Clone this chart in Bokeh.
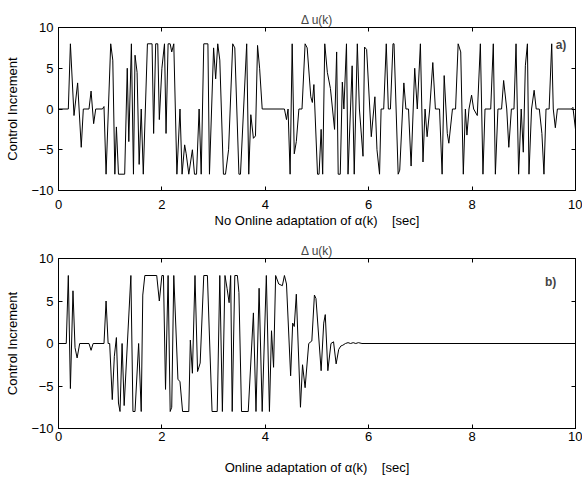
from bokeh.plotting import figure
from bokeh.models import LinearAxis, Label, Range1d, FixedTicker
from bokeh.layouts import column
from bokeh.embed import file_html
from bokeh.resources import INLINE

# ---- data: a) no online adaptation ----
t_a = [0, 0.19, 0.23, 0.30, 0.37, 0.44, 0.48, 0.59, 0.63, 0.68,
       0.72, 0.85, 0.88, 0.92, 1.01, 1.05, 1.09, 1.12, 1.16, 1.28,
       1.33, 1.36, 1.41, 1.45, 1.48, 1.52, 1.56, 1.60, 1.64, 1.72,
       1.81, 1.84, 1.88, 1.92, 1.95, 2.00, 2.05, 2.08, 2.12, 2.16,
       2.19, 2.23, 2.29, 2.35, 2.39, 2.44, 2.47, 2.52, 2.59, 2.63,
       2.67, 2.72, 2.76, 2.81, 2.89, 2.92, 3.00, 3.04, 3.08, 3.12,
       3.19, 3.23, 3.29, 3.37, 3.41, 3.49, 3.52, 3.58, 3.64, 3.68,
       3.72, 3.77, 3.81, 3.85, 3.89, 3.94, 4.37, 4.41, 4.44, 4.48,
       4.52, 4.56, 4.60, 4.65, 4.71, 4.77, 4.81, 4.88, 4.91, 4.94,
       5.01, 5.04, 5.08, 5.11, 5.15, 5.20, 5.26, 5.34, 5.38, 5.41,
       5.45, 5.49, 5.52, 5.57, 5.60, 5.68, 5.72, 5.78, 5.82, 5.89,
       5.92, 5.96, 6.05, 6.12, 6.16, 6.21, 6.24, 6.29, 6.34, 6.38,
       6.42, 6.47, 6.49, 6.57, 6.60, 6.68, 6.72, 6.77, 6.82, 6.89,
       6.94, 7.00, 7.05, 7.09, 7.13, 7.18, 7.24, 7.29, 7.37, 7.42,
       7.46, 7.52, 7.55, 7.62, 7.68, 7.73, 7.78, 7.83, 7.87, 7.90,
       7.94, 7.99, 8.03, 8.10, 8.16, 8.21, 8.25, 8.36, 8.41, 8.45,
       8.50, 8.57, 8.61, 8.67, 8.71, 8.76, 8.81, 8.85, 8.90, 8.95,
       8.99, 9.03, 9.07, 9.10, 9.15, 9.20, 9.24, 9.30, 9.35, 9.39,
       9.43, 9.49, 9.54, 9.57, 9.61, 9.65, 9.92, 9.95, 10.0]
du_a = [0, 0, 8, -0.8, 3.2, -4.7, 0, 0, 2.2, -1.8,
        0, 0, 0.3, -8, 8, 6, -8, -2.2, -8, -8,
        5, -4, 8, -8, 6.6, 4.5, -6.8, 0, -8, 8,
        8, -3, 8, 8, -1.3, 5, 8, -3, 8, 8,
        7, 8, -8, 0, -8, -4.4, -5.5, -8, -5, -8,
        -8, 0, -8, 8, 8, -8, 7.5, 3.7, 8, 6,
        -8, -8, -5, 8, 7.5, -8, -8, 0, 8, -8,
        -0.7, -3.6, -3.3, 7.8, 5, 0, 0, -1.3, 0, -8,
        8, -5.5, -4, 0, 0, 8, 7.5, 1.5, 0.8, 3,
        -8, -8, -2.5, -8, 8, 4.5, 2.5, -2.5, 7, -8,
        -8, 3.3, 0, 8, -8, 5.3, -8, 8, 0, -5.8,
        7.6, 7.3, -3.4, 1.5, -5, -8, 0, 0, 8, 0,
        0, 8, 8, -8, -7.5, 3.2, 0, 0, -7, 5,
        0, 8, -6.5, 0, -3.4, 0, 5.7, 0, 0, -8,
        4.1, -3, -4.2, 0, 0, 8, 7, -8, 0, -3.2,
        0, 1.7, 0, -0.8, 8, -8, 0, 0, 8, -8,
        0, 0, 3.5, 0, -4.7, 0, 0, 8, -8, 0,
        -5.3, 5.3, 8, -8, 0, 2.3, 0, 0, -3, -8,
        0, 0, 8, 0, -2.3, 0, 0, 0.2, -2.5]

# ---- data: b) online adaptation ----
t_b = [0, 0.15, 0.19, 0.23, 0.28, 0.32, 0.36, 0.41, 0.59, 0.63,
       0.67, 0.88, 0.92, 0.96, 0.99, 1.04, 1.08, 1.12, 1.16, 1.19,
       1.23, 1.27, 1.40, 1.44, 1.48, 1.55, 1.60, 1.63, 1.67, 1.90,
       1.95, 2.00, 2.03, 2.07, 2.12, 2.16, 2.19, 2.23, 2.31, 2.35,
       2.40, 2.52, 2.55, 2.59, 2.64, 2.69, 2.74, 2.81, 2.88, 2.93,
       2.97, 3.07, 3.12, 3.17, 3.22, 3.26, 3.30, 3.33, 3.36, 3.41,
       3.46, 3.49, 3.54, 3.67, 3.77, 3.82, 3.88, 3.94, 4.02, 4.08,
       4.12, 4.16, 4.20, 4.26, 4.33, 4.37, 4.41, 4.49, 4.53, 4.56,
       4.60, 4.68, 4.72, 4.77, 4.84, 4.90, 4.95, 4.98, 5.08, 5.13,
       5.16, 5.21, 5.27, 5.32, 5.37, 5.42, 5.46, 5.50, 5.55, 5.60,
       5.65, 5.70, 5.75, 5.80, 5.87, 10.0]
du_b = [0, 0, 8, -5.3, 6.2, -0.5, -1.7, 0, 0, -0.8,
        0, 0, 5, 0, 0, -6.6, -1.5, 0.7, -7, -8,
        0, -7.3, 8, -8, -8, 0, -8, 5.7, 8, 8,
        5, 8, 8, -5.4, 8, -8, -7.5, 8, -4.2, -4.5,
        -8, -8, 0.4, -3.5, 8, -3.3, -2.3, 8, 8, -1,
        -8, -8, 8, -8, 8, 6.5, 4.8, 8, -8, 8,
        8, 6, -8, -8, 3.6, -8, 6.5, -8, 8, -8,
        1.5, -2.8, 8, 7, 6.8, 8, 7, -3.8, 2.4, 2,
        5.8, -7.5, -2.5, -5.2, 0, 0.3, 5.7, 5.3, -3.2, 2.4,
        3.4, -3.2, 0, 0.2, -2.4, -0.7, -0.3, -0.2, 0, 0.1,
        0, 0.1, 0, 0.1, 0, 0]

x_ticks = [0, 2, 4, 6, 8, 10]
y_ticks = [-10, -5, 0, 5, 10]
title_txt = "\u0394 u(k)"
ylabel_txt = "Control Increment"
xlabel_a = "No Online adaptation of \u03b1(k)\u00a0\u00a0\u00a0\u00a0[sec]"
xlabel_b = "Online adaptation of \u03b1(k)\u00a0\u00a0\u00a0\u00a0[sec]"

FONT = "Liberation Sans"


def style_axis(ax, labels=True):
    ax.major_tick_in = 4
    ax.major_tick_out = 0
    ax.minor_tick_line_color = None
    ax.axis_line_color = "black"
    ax.major_tick_line_color = "black"
    ax.major_label_text_font = FONT
    ax.axis_label_text_font = FONT
    ax.axis_label_text_font_style = "normal"
    ax.axis_label_text_color = "black"
    if labels:
        ax.major_label_text_color = "black"
        ax.major_label_text_font_size = "13px"
        ax.axis_label_text_font_size = "13px"
    else:
        ax.major_label_text_color = None
        ax.major_label_text_font_size = "1px"
        ax.major_label_standoff = 0


def make(t, v, xlabel, tag, tx, ty, height, top, bottom, lab_standoff, ax_standoff):
    p = figure(width=582, height=height, x_range=Range1d(0, 10), y_range=Range1d(-10, 10),
               output_backend="svg", toolbar_location=None,
               min_border_left=58, min_border_right=7,
               min_border_top=top, min_border_bottom=bottom)
    p.title.text = title_txt
    p.title.align = "center"
    p.title.text_font = FONT
    p.title.text_font_size = "12px"
    p.title.text_font_style = "normal"
    p.title.standoff = 1
    p.grid.visible = False
    p.outline_line_color = "black"
    p.outline_line_alpha = 1
    p.background_fill_color = "white"
    p.border_fill_color = "white"

    p.xaxis.ticker = FixedTicker(ticks=x_ticks)
    p.yaxis.ticker = FixedTicker(ticks=y_ticks)
    for ax in p.xaxis + p.yaxis:
        style_axis(ax)
    p.xaxis.axis_label = xlabel
    p.yaxis.axis_label = ylabel_txt
    p.xaxis.major_label_standoff = lab_standoff
    p.xaxis.axis_label_standoff = ax_standoff
    p.yaxis.major_label_standoff = 5
    p.yaxis.axis_label_standoff = 8

    top_ax = LinearAxis(ticker=FixedTicker(ticks=x_ticks))
    right_ax = LinearAxis(ticker=FixedTicker(ticks=y_ticks))
    style_axis(top_ax, labels=False)
    style_axis(right_ax, labels=False)
    p.add_layout(top_ax, "above")
    p.add_layout(right_ax, "right")

    p.line(t, v, line_color="black", line_width=1)
    p.add_layout(Label(x=tx, y=ty, text=tag, text_font=FONT, text_font_size="12px",
                       text_font_style="bold", text_align="center", text_baseline="middle"))
    return p


p1 = make(t_a, du_a, xlabel_a, "a)", 9.72, 7.9, 230, 27, 33, 9, 1)
p2 = make(t_b, du_b, xlabel_b, "b)", 9.52, 7.2, 247, 28, 47, 3, 16)

layout = column(p1, p2, spacing=0)
open("out.html", "w").write(file_html(layout, INLINE))
